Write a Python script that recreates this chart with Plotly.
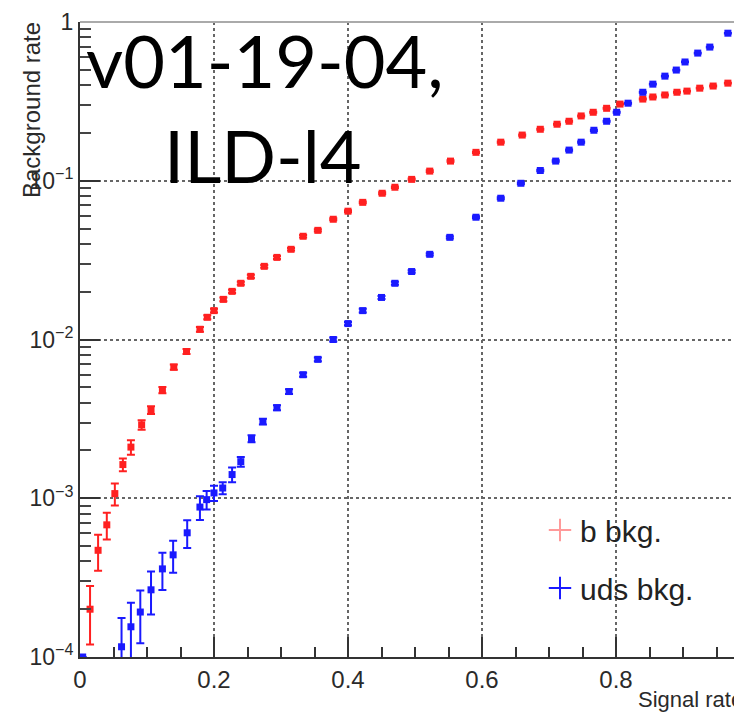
import plotly.graph_objects as go

# ---- data ----
b_x = [0.015, 0.027, 0.040, 0.052, 0.064, 0.076, 0.092, 0.106, 0.123, 0.140,
       0.159, 0.179, 0.190, 0.200, 0.214, 0.227, 0.240, 0.255, 0.275, 0.294,
       0.315, 0.333, 0.355, 0.378, 0.400, 0.422, 0.451, 0.470, 0.495, 0.522,
       0.553, 0.591, 0.628, 0.660, 0.687, 0.712, 0.730, 0.748, 0.766, 0.786,
       0.806, 0.840, 0.855, 0.873, 0.891, 0.906, 0.925, 0.945, 0.967, 0.985]
b_y = [2.0e-4, 4.7e-4, 6.8e-4, 1.07e-3, 1.63e-3, 2.1e-3, 2.9e-3, 3.6e-3, 4.8e-3, 6.7e-3,
       8.4e-3, 0.0116, 0.0138, 0.0152, 0.0179, 0.0201, 0.0226, 0.025, 0.0289, 0.0329,
       0.037, 0.0447, 0.0487, 0.0572, 0.0643, 0.0731, 0.0834, 0.091, 0.102, 0.115,
       0.133, 0.151, 0.175, 0.194, 0.211, 0.227, 0.237, 0.256, 0.27, 0.286,
       0.304, 0.327, 0.337, 0.347, 0.361, 0.367, 0.383, 0.395, 0.412, 0.437]
b_err = [0.8e-4, 1.2e-4, 1.3e-4, 1.7e-4, 1.5e-4, 2.2e-4, 2.0e-4, 2.0e-4, 2.2e-4, 2.5e-4,
         3e-4, 4e-4, 4e-4, 4e-4, 5e-4, 5e-4, 5e-4, 6e-4, 6e-4, 7e-4,
         7e-4, 8e-4, 8e-4, 9e-4, 1.0e-3, 1.0e-3, 1.1e-3, 1.1e-3, 1.2e-3, 1.3e-3,
         1.4e-3, 1.5e-3, 1.6e-3, 1.7e-3, 1.8e-3, 1.8e-3, 1.9e-3, 2.0e-3, 2.0e-3, 2.1e-3,
         2.2e-3, 2.3e-3, 2.3e-3, 2.4e-3, 2.4e-3, 2.5e-3, 2.5e-3, 2.6e-3, 2.6e-3, 2.7e-3]

uds_x = [0.004, 0.062, 0.076, 0.090, 0.106, 0.123, 0.139, 0.160, 0.179, 0.189,
         0.200, 0.213, 0.227, 0.240, 0.256, 0.273, 0.294, 0.312, 0.333, 0.355,
         0.378, 0.400, 0.422, 0.450, 0.470, 0.495, 0.522, 0.552, 0.591, 0.628,
         0.658, 0.687, 0.710, 0.730, 0.748, 0.767, 0.786, 0.801, 0.818, 0.840,
         0.855, 0.873, 0.890, 0.903, 0.922, 0.940, 0.967, 0.985]
uds_y = [1.0e-4, 1.16e-4, 1.55e-4, 1.92e-4, 2.65e-4, 3.59e-4, 4.4e-4, 6.06e-4, 8.8e-4, 9.8e-4,
         1.08e-3, 1.16e-3, 1.41e-3, 1.7e-3, 2.37e-3, 3.04e-3, 3.72e-3, 4.7e-3, 6.0e-3, 7.5e-3,
         0.010, 0.0126, 0.0152, 0.0184, 0.0226, 0.0268, 0.0344, 0.044, 0.0589, 0.0776,
         0.0964, 0.116, 0.133, 0.156, 0.175, 0.208, 0.237, 0.27, 0.308, 0.361,
         0.406, 0.456, 0.498, 0.56, 0.637, 0.695, 0.85, 0.97]
uds_err = [0.0, 0.6e-4, 0.65e-4, 0.7e-4, 0.8e-4, 0.95e-4, 1.0e-4, 1.2e-4, 1.5e-4, 1.3e-4,
           1.2e-4, 1.0e-4, 1.5e-4, 1.2e-4, 1.2e-4, 1.3e-4, 1.4e-4, 1.6e-4, 1.8e-4, 2.0e-4,
           3e-4, 3e-4, 4e-4, 4e-4, 5e-4, 5e-4, 6e-4, 7e-4, 9e-4, 1.1e-3,
           1.2e-3, 1.4e-3, 1.5e-3, 1.6e-3, 1.7e-3, 1.9e-3, 2.0e-3, 2.2e-3, 2.3e-3, 2.5e-3,
           2.6e-3, 2.8e-3, 2.9e-3, 3.0e-3, 3.2e-3, 3.3e-3, 3.6e-3, 3.8e-3]

x_ticks = [0, 0.2, 0.4, 0.6, 0.8]
x_ticktext = ["0", "0.2", "0.4", "0.6", "0.8"]
y_ticks = [1e-4, 1e-3, 1e-2, 1e-1, 1]
y_ticktext = ["10<sup>\u22124</sup>", "10<sup>\u22123</sup>", "10<sup>\u22122</sup>",
              "10<sup>\u22121</sup>", "1"]
y_minor = [m * 10.0 ** e for e in (-4, -3, -2, -1) for m in range(2, 10)]

RED = "#ff2020"
BLUE = "#1a1aff"

fig = go.Figure()
fig.add_trace(go.Scatter(
    x=b_x, y=b_y, mode="markers", showlegend=False,
    marker=dict(symbol="square", size=7, color=RED),
    error_y=dict(type="data", array=b_err, color=RED, thickness=2, width=4),
))
fig.add_trace(go.Scatter(
    x=uds_x, y=uds_y, mode="markers", showlegend=False,
    marker=dict(symbol="square", size=7, color=BLUE),
    error_y=dict(type="data", array=uds_err, color=BLUE, thickness=2, width=4),
))
# legend entries
fig.add_trace(go.Scatter(
    x=[None], y=[None], mode="markers", name="b bkg.", legendgroup="b",
    marker=dict(symbol="cross-thin-open", size=16, color="#ff9a9a",
                line=dict(width=2, color="#ff9a9a")),
))
fig.add_trace(go.Scatter(
    x=[None], y=[None], mode="markers", name="uds bkg.", legendgroup="u",
    marker=dict(symbol="cross-thin-open", size=16, color=BLUE,
                line=dict(width=2, color=BLUE)),
))

# page body has an 8px margin: figure drawn at (8, 8)
OFF = 8
W, H = 742 - OFF, 713 - OFF
L = 80 - OFF          # plot left edge at page x=80
T = 22 - OFF          # plot top at page y=22
B = H - (657 - OFF)   # plot bottom at page y=657
pw = W - L
ph = H - T - B


def px_x(page_x):
    return (page_x - 80) / pw


def px_y(page_y):
    return (657 - page_y) / ph


fig.update_layout(
    width=W, height=H,
    margin=dict(l=L, r=0, t=T, b=B, pad=0),
    paper_bgcolor="white", plot_bgcolor="white",
    font=dict(family="Liberation Sans, Arial, sans-serif", size=24, color="#2a2a2a"),
    legend=dict(x=px_x(540), y=px_y(504), xanchor="left", yanchor="top",
                bgcolor="rgba(0,0,0,0)", font=dict(size=30, color="#222"),
                traceorder="grouped", tracegroupgap=16, itemwidth=30),
    xaxis=dict(
        range=[0, pw / 670.0], tickmode="array", tickvals=x_ticks, ticktext=x_ticktext,
        ticks="inside", ticklen=20, tickwidth=2, tickcolor="#333",
        showline=True, linecolor="#333", linewidth=2,
        showgrid=True, gridcolor="#666", griddash="dot", gridwidth=1.5,
        zeroline=False,
        minor=dict(dtick=0.05, tick0=0, ticks="inside", ticklen=10, tickwidth=2,
                   tickcolor="#333", showgrid=False),
        tickfont=dict(size=24, color="#2a2a2a"),
    ),
    yaxis=dict(
        type="log", range=[-4, 0], tickmode="array", tickvals=y_ticks, ticktext=y_ticktext,
        ticks="inside", ticklen=20, tickwidth=2, tickcolor="#333",
        showline=True, linecolor="#333", linewidth=2,
        showgrid=True, gridcolor="#666", griddash="dot", gridwidth=1.5,
        zeroline=False,
        minor=dict(tickmode="array", tickvals=y_minor, ticks="inside", ticklen=11,
                   tickwidth=2, tickcolor="#444", showgrid=False),
        tickfont=dict(size=23, color="#2a2a2a"),
    ),
    shapes=[dict(type="line", xref="paper", yref="paper", x0=0, x1=1, y0=1, y1=1,
                 line=dict(color="#aaaaaa", width=2))],
    annotations=[
        dict(text="Background rate", xref="paper", yref="paper",
             x=px_x(32), y=px_y(20), xanchor="center", yanchor="top",
             textangle=-90, showarrow=False, font=dict(size=24, color="#2a2a2a")),
        dict(text="Signal rate", xref="paper", yref="paper",
             x=px_x(636), y=px_y(699), xanchor="left", yanchor="middle",
             showarrow=False, font=dict(size=22, color="#2a2a2a")),
        dict(text="v01-19-04,", xref="paper", yref="paper",
             x=px_x(265), y=px_y(60), xanchor="center", yanchor="middle",
             showarrow=False, font=dict(family="Lato, sans-serif", size=72, color="black")),
        dict(text="ILD-l4", xref="paper", yref="paper",
             x=px_x(262), y=px_y(155), xanchor="center", yanchor="middle",
             showarrow=False, font=dict(family="Lato, sans-serif", size=72, color="black")),
    ],
)

fig.write_html("out.html")
